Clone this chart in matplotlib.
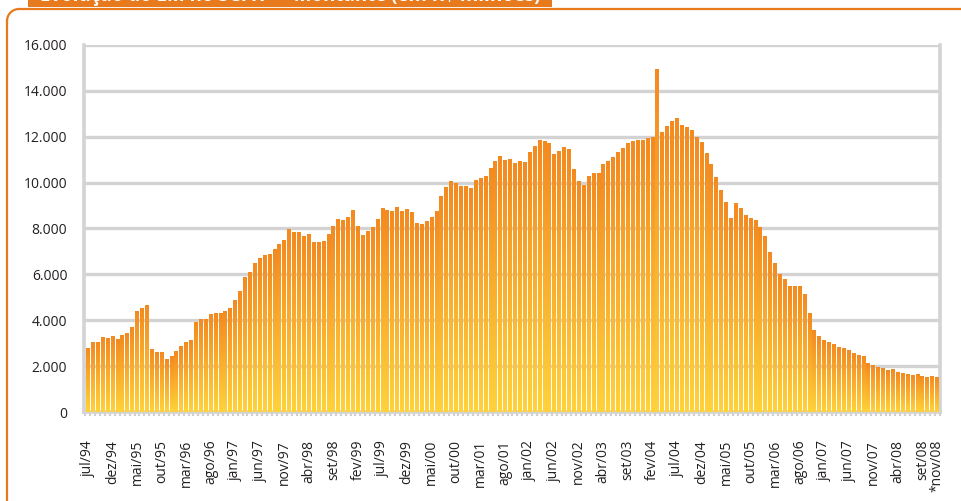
import numpy as np
import matplotlib
matplotlib.use("Agg")
import matplotlib.pyplot as plt
from matplotlib.ticker import FuncFormatter, FixedLocator
from matplotlib.patches import Rectangle, Arc
from matplotlib.lines import Line2D
from matplotlib.transforms import IdentityTransform

plt.rcParams['font.family'] = ['Open Sans', 'DejaVu Sans']

# ---- data (R$ milhões), monthly from jul/94 ----
values = [
    2750, 3020, 3020, 3240, 3200, 3280, 3150, 3330, 3420, 3680,
    4380, 4510, 4640, 2720, 2580, 2580, 2280, 2410, 2630, 2850,
    3020, 3110, 3900, 4030, 4030, 4250, 4290, 4290, 4380, 4510,
    4860, 5260, 5870, 6090, 6480, 6700, 6830, 6880, 7100, 7320,
    7490, 7970, 7840, 7840, 7630, 7760, 7370, 7400, 7424, 7728,
    8076, 8381, 8337, 8468, 8772, 8076, 7685, 7859, 8033, 8381,
    8859, 8772, 8729, 8903, 8729, 8816, 8685, 8207, 8163, 8294,
    8468, 8729, 9381, 9773, 10034, 9947, 9816, 9816, 9730, 10077,
    10164, 10251, 10600, 10904, 11121, 10947, 10991, 10817, 10904, 10860,
    11295, 11556, 11817, 11774, 11687, 11208, 11339, 11513, 11426, 10556,
    10034, 9860, 10251, 10382, 10382, 10773, 10904, 11078, 11295, 11469,
    11687, 11774, 11817, 11817, 11904, 11948, 14950, 12165, 12426, 12644,
    12774, 12470, 12383, 12252, 11948, 11730, 11252, 10773, 10208, 9642,
    9120, 8424, 9077, 8859, 8555, 8424, 8337, 8033, 7642, 6945,
    6467, 5988, 5771, 5466, 5466, 5466, 5118, 4310, 3570, 3270,
    3135, 3050, 2960, 2830, 2790, 2700, 2570, 2485, 2440, 2135,
    2048, 1960, 1917, 1830, 1873, 1742, 1700, 1655, 1612, 1655,
    1568, 1525, 1568, 1525,
]

tick_labels = [
    "jul/94", "dez/94", "mai/95", "out/95", "mar/96", "ago/96", "jan/97",
    "jun/97", "nov/97", "abr/98", "set/98", "fev/99", "jul/99", "dez/99",
    "mai/00", "out/00", "mar/01", "ago/01", "jan/02", "jun/02", "nov/02",
    "abr/03", "set/03", "fev/04", "jul/04", "dez/04", "mai/05", "out/05",
    "mar/06", "ago/06", "jan/07", "jun/07", "nov/07", "abr/08", "set/08",
    "*nov/08",
]

title = "Evolução do EM no SCFH — Montante (em R$ milhões)"

y_ticks = [0, 2000, 4000, 6000, 8000, 10000, 12000, 14000, 16000]

# ---- figure ----
W, H = 961, 501
fig = plt.figure(figsize=(W / 100, H / 100), dpi=100)
fig.patch.set_facecolor('white')

ax = fig.add_axes([84 / W, 89 / H, (940 - 84) / W, (456 - 89) / H])
ax.set_facecolor('white')

n = len(values)
x = np.arange(n)
bars = ax.bar(x, values, width=0.76, color='none', edgecolor='none', zorder=3)

top_c = np.array([243, 138, 32]) / 255.0
bot_c = np.array([255, 210, 58]) / 255.0
t = np.linspace(0, 1, 128)[:, None]
grad = (top_c[None, :] * (1 - t) + bot_c[None, :] * t)[:, None, :]  # top row first

for b in bars:
    x0 = b.get_x()
    w = b.get_width()
    h = b.get_height()
    ax.imshow(grad, extent=[x0, x0 + w, 0, h], aspect='auto',
              interpolation='nearest', zorder=3, origin='upper')

ax.set_xlim(-0.8, n - 1 + 0.6)
ax.set_ylim(0, 16000)

grid_c = '#D3D3D3'
ax.set_yticks(y_ticks)
ax.yaxis.set_major_formatter(FuncFormatter(lambda v, p: f"{v:,.0f}".replace(",", ".")))
ax.yaxis.grid(True, color=grid_c, linewidth=2.4, zorder=1)
ax.set_axisbelow(True)
ax.tick_params(axis='y', length=0, pad=12, labelsize=10, labelcolor='#231F20')

tick_pos = list(range(0, 171, 5)) + [n - 1]
ax.xaxis.set_major_locator(FixedLocator(tick_pos))
ax.set_xticklabels(tick_labels, rotation=90, fontsize=10, color='#231F20')
ax.tick_params(axis='x', which='major', length=0, pad=20)
ax.xaxis.set_minor_locator(FixedLocator(np.arange(-0.5, n, 1.0)))
ax.tick_params(axis='x', which='minor', length=3, width=1.6, color='#D0D0D0', direction='out')

for s in ['left', 'right', 'bottom']:
    ax.spines[s].set_color(grid_c)
    ax.spines[s].set_linewidth(2.6)
ax.spines['top'].set_visible(False)

# ---- decorative frame & header ----
orange = '#E87A1E'
tr = IdentityTransform()
fig.add_artist(Rectangle((28, H - 7), 552 - 28, 8, transform=tr,
                         facecolor=orange, edgecolor='none'))
r = 12
ytop = H - 9
fig.add_artist(Line2D([7 + r, W + 2], [ytop, ytop], transform=tr, color=orange, lw=1.6))
fig.add_artist(Line2D([7, 7], [ytop - r, -2], transform=tr, color=orange, lw=1.6))
fig.add_artist(Arc((7 + r, ytop - r), 2 * r, 2 * r, theta1=90, theta2=180,
                   transform=tr, color=orange, lw=1.6))
fig.text(40 / W, (H - 1.2) / H, title, color='white', fontsize=13.5, fontweight='bold',
         ha='left', va='baseline')

fig.savefig('out.png', dpi=100, facecolor='white')
